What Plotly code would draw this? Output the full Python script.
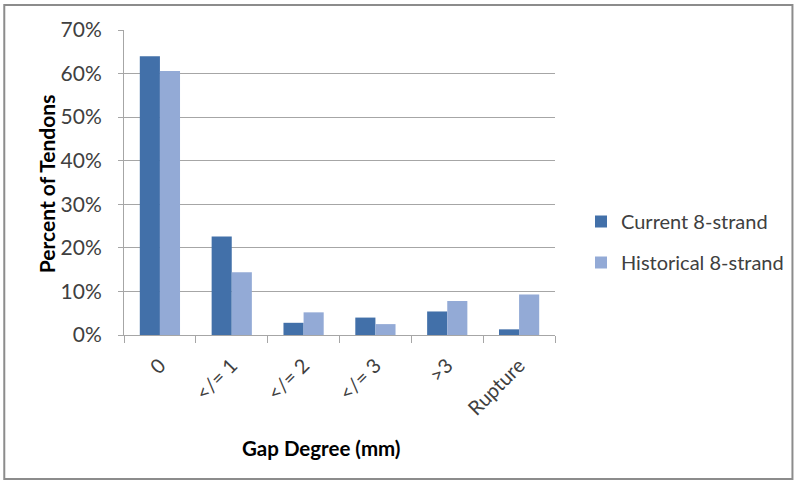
import plotly.graph_objects as go

categories = ["0", "</= 1", "</= 2", "</= 3", ">3", "Rupture"]
current_8_strand = [0.64, 0.226, 0.028, 0.040, 0.054, 0.013]
historical_8_strand = [0.606, 0.144, 0.052, 0.025, 0.078, 0.093]
y_ticks = [0, 0.1, 0.2, 0.3, 0.4, 0.5, 0.6, 0.7]
y_tick_labels = ["0%", "10%", "20%", "30%", "40%", "50%", "60%", "70%"]

FONT = "Lato"
TXT = "#404040"

fig = go.Figure()
fig.add_trace(go.Bar(name="Current 8-strand", x=categories, y=current_8_strand,
                     marker=dict(color="#4270A9", line=dict(width=0)), legendgroup="a"))
fig.add_trace(go.Bar(name="Historical 8-strand", x=categories, y=historical_8_strand,
                     marker=dict(color="#93AAD6", line=dict(width=0)), legendgroup="b"))

L, R, T, B = 124, 244, 30, 150
W, H = 800, 485
pw, ph = W - L - R, H - T - B

def px(x):
    return (x - L) / pw

def py(y):
    return (H - B - y) / ph

fig.update_layout(
    width=W, height=H,
    margin=dict(l=L, r=R, t=T, b=B),
    paper_bgcolor="white", plot_bgcolor="white",
    barmode="group", bargap=0.44, bargroupgap=0,
    font=dict(family=FONT, color=TXT),
    showlegend=True,
    legend=dict(x=px(581), y=py(202), xanchor="left", yanchor="top",
                font=dict(size=20, color=TXT, family=FONT),
                traceorder="grouped", tracegroupgap=12,
                itemwidth=30, bgcolor="rgba(0,0,0,0)"),
    xaxis=dict(
        type="category",
        showline=True, linecolor="#A6A6A6", linewidth=1,
        ticks="outside", tickson="boundaries", ticklen=7, tickcolor="#A6A6A6",
        tickangle=-45, tickfont=dict(size=20, color=TXT, family=FONT),
        ticklabelstandoff=10,
        showgrid=False,
    ),
    yaxis=dict(
        range=[0, 0.7], tickvals=y_ticks, ticktext=y_tick_labels,
        showline=True, linecolor="#A6A6A6", linewidth=1,
        ticks="outside", ticklen=5, tickcolor="#A6A6A6",
        showgrid=True, gridcolor="#A6A6A6", gridwidth=1,
        tickfont=dict(size=21, color=TXT, family=FONT),
        zeroline=False,
        ticklabelstandoff=12,
    ),
    shapes=[dict(type="rect", xref="paper", yref="paper",
                 x0=px(4), x1=px(794), y0=py(479), y1=py(5),
                 line=dict(color="#8C8C8C", width=2), fillcolor="rgba(0,0,0,0)",
                 layer="below")],
    annotations=[
        dict(text="<b>Percent of Tendons</b>", xref="paper", yref="paper",
             x=px(47), y=py(184), textangle=-90, showarrow=False,
             font=dict(size=21, color="#000000", family=FONT),
             xanchor="center", yanchor="middle"),
        dict(text="<b>Gap Degree (mm)</b>", xref="paper", yref="paper",
             x=px(322), y=py(448), showarrow=False,
             font=dict(size=20.5, color="#000000", family=FONT),
             xanchor="center", yanchor="middle"),
    ],
)

fig.write_html("out.html", config={"displayModeBar": False},
               post_script="document.body.style.margin='0px';document.body.style.padding='0px';")
